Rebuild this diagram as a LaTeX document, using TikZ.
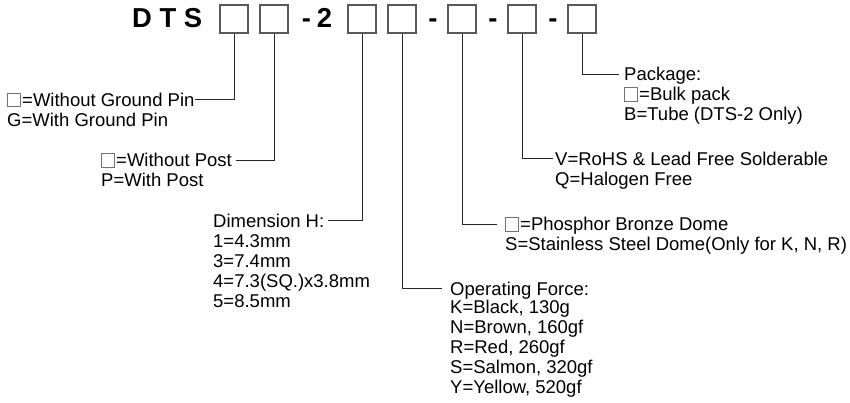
\documentclass[tikz,border=0pt]{standalone}
\usepackage{fontspec}
\setmainfont{Liberation Sans}
\usepackage{tikz}

\newcommand{\nobox}{{\color{black!55}\setlength{\fboxsep}{0pt}\setlength{\fboxrule}{0.9pt}\fbox{\rule{0pt}{12.5pt}\rule{12pt}{0pt}}}\hspace{1.2pt}}

\tikzset{
  pbox/.style={draw=black!65, line width=1.1pt, minimum size=28pt, inner sep=0pt},
  ttl/.style={font=\fontsize{27.4}{30}\selectfont\bfseries, inner sep=0pt, anchor=base},
  lbl/.style={font=\fontsize{18.5}{20}\selectfont, inner sep=0pt, text height=16.7pt, text depth=3.3pt},
  more/.style={font=\fontsize{18.5}{20}\selectfont, inner sep=0pt, align=left, anchor=base west},
  conn/.style={draw=black!85, line width=0.9pt}
}

\begin{document}
\begin{tikzpicture}[x=1pt, y=-1pt]
  \useasboundingbox (0,0) rectangle (850,403);
  % part number
  \node[ttl, anchor=base west] (dts) at (132,27.3) {D T S};
  \node[pbox] (b1) at (234,19) {};
  \node[pbox] (b2) at (274,19) {};
  \node[ttl] (d1) at (306.5,27.3) {-};
  \node[ttl] (two) at (324.5,27.3) {2};
  \node[pbox] (b3) at (362,19) {};
  \node[pbox] (b4) at (402,19) {};
  \node[ttl] (d2) at (433,27.3) {-};
  \node[pbox] (b5) at (462,19) {};
  \node[ttl] (d3) at (493,27.3) {-};
  \node[pbox] (b6) at (522,19) {};
  \node[ttl] (d4) at (553,27.3) {-};
  \node[pbox] (b7) at (582,19) {};

  % options (base of a multi-line node = its last line)
  \node[lbl, anchor=west] (g1) at (7,99.5) {\nobox=Without Ground Pin};
  \node[more] (g1x) at ([yshift=-20pt]g1.base west) {G=With Ground Pin};
  \node[lbl, anchor=west] (g2) at (101,160) {\nobox=Without Post};
  \node[more] (g2x) at ([yshift=-20pt]g2.base west) {P=With Post};
  \node[lbl, anchor=west] (g3) at (213,220.5) {Dimension H:};
  \node[more] (g3x) at ([yshift=-80pt]g3.base west) {1=4.3mm\\3=7.4mm\\4=7.3(SQ.)x3.8mm\\5=8.5mm};
  \node[lbl, anchor=west] (g4) at (450,288.5) {Operating Force:};
  \node[more] (g4x) at ([yshift=-98pt]g4.base west) {K=Black, 130g\\N=Brown, 160gf\\R=Red, 260gf\\S=Salmon, 320gf\\Y=Yellow, 520gf};
  \node[lbl, anchor=west] (g5) at (505,224) {\nobox=Phosphor Bronze Dome};
  \node[more] (g5x) at ([yshift=-20pt]g5.base west) {S=Stainless Steel Dome(Only for K, N, R)};
  \node[lbl, anchor=west] (g6) at (555,158.5) {V=RoHS \& Lead Free Solderable};
  \node[more] (g6x) at ([yshift=-20pt]g6.base west) {Q=Halogen Free};
  \node[lbl, anchor=west] (g7) at (624,74) {Package:};
  \node[more] (g7x) at ([yshift=-40pt]g7.base west) {\nobox=Bulk pack\\B=Tube (DTS-2 Only)};

  % leaders
  \draw[conn] (b1.south) |- (g1.east);
  \draw[conn, shorten >=4pt] (b2.south) |- (g2.east);
  \draw[conn, shorten >=4pt] (b3.south) |- (g3.east);
  \draw[conn, shorten >=8pt] (b4.south) |- (g4.west);
  \draw[conn, shorten >=8pt] (b5.south) |- (g5.west);
  \draw[conn, shorten >=2pt] (b6.south) |- (g6.west);
  \draw[conn, shorten >=5pt] (b7.south) |- (g7.west);
\end{tikzpicture}
\end{document}
